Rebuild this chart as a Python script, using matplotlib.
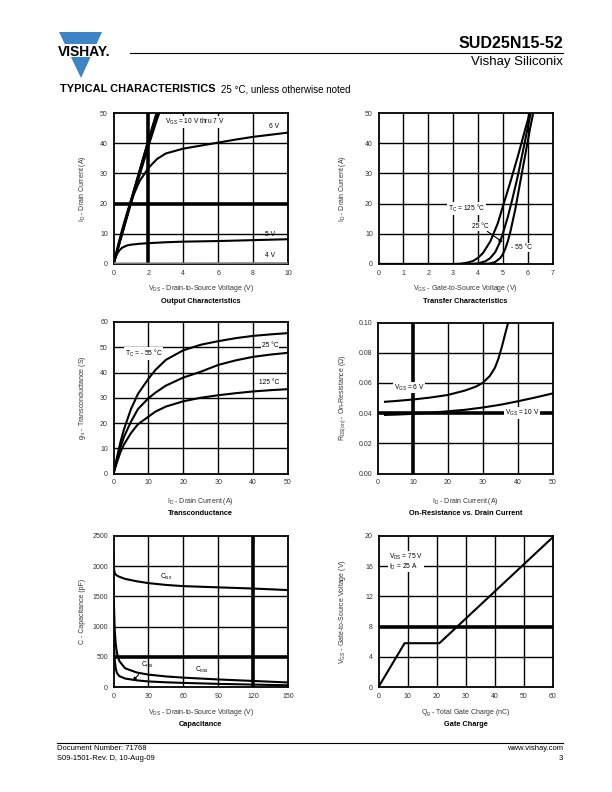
import matplotlib
matplotlib.use("Agg")
import matplotlib.pyplot as plt
from matplotlib.patches import Polygon, Rectangle

plt.rcParams['font.family'] = ['Liberation Sans', 'DejaVu Sans']
plt.rcParams['mathtext.default'] = 'regular'

# ---- data ----
# Output characteristics (VDS, ID)
out_vds_hi = [0, 0.5, 1.0, 1.5, 2.0, 2.5, 2.75]
out_id_10v = [0, 10.5, 21, 31, 41, 50.5, 55]
out_id_7v = [0, 10, 20, 29.5, 39, 48, 52]
out_vds_6v = [0, 0.25, 0.5, 0.75, 1.0, 1.5, 2.0, 2.5, 3.0, 4.0, 5.0, 6.0, 7.0, 8.0, 9.0, 10.0]
out_id_6v = [0, 6, 11.5, 16.5, 21, 27.5, 31.8, 34.8, 36.6, 38.2, 39.2, 40.2, 41.2, 42.1, 42.8, 43.5]
out_vds_5v = [0, 0.1, 0.2, 0.35, 0.5, 0.75, 1.0, 1.5, 2.0, 3.0, 4.0, 6.0, 8.0, 10.0]
out_id_5v = [0, 1.8, 3.3, 4.6, 5.4, 6.1, 6.4, 6.7, 6.9, 7.2, 7.4, 7.6, 7.9, 8.2]
out_vds_4v = [0, 10]
out_id_4v = [0.15, 0.25]

# Transfer characteristics (VGS, ID)
tr_vgs_125 = [0, 3.0, 3.3, 3.6, 3.8, 4.0, 4.2, 4.5, 4.8, 5.0, 5.3, 5.6, 5.9, 6.1]
tr_id_125 = [0, 0, 0.1, 0.5, 1.0, 2.0, 3.6, 7.5, 13.5, 19, 27, 35.5, 44.5, 50.5]
tr_vgs_25 = [0, 3.6, 4.0, 4.3, 4.5, 4.7, 4.9, 5.0, 5.2, 5.4, 5.6, 5.8, 6.0, 6.15]
tr_id_25 = [0, 0, 0.2, 0.9, 2.0, 4.0, 7.5, 10, 15.5, 22, 29, 37, 45, 51]
tr_vgs_m55 = [0, 4.2, 4.5, 4.7, 4.9, 5.0, 5.1, 5.2, 5.3, 5.5, 5.7, 5.9, 6.1, 6.25]
tr_id_m55 = [0, 0, 0.2, 0.7, 2.0, 3.2, 5.0, 7.5, 10.5, 18, 27, 36, 45, 51]

# Transconductance (ID, gfs)
gfs_id = [0, 1, 2, 3, 5, 7, 10, 12, 15, 20, 25, 30, 35, 40, 45, 50]
gfs_m55 = [0, 6.5, 12.5, 17.5, 25.5, 31.5, 37.5, 41, 45, 48.8, 51, 52.4, 53.6, 54.5, 55.1, 55.6]
gfs_25 = [0, 5.5, 10.5, 14.5, 20.5, 25.5, 29.8, 32, 34.8, 38, 40.3, 43, 44.8, 46.2, 47.1, 47.8]
gfs_125 = [0, 4.5, 8.5, 11.5, 16, 19.5, 22.5, 24.5, 26.5, 28.6, 30, 31, 31.8, 32.5, 33, 33.4]

# On-resistance vs drain current (ID, RDS(on))
ron_id_6v = [2, 5, 10, 15, 20, 25, 28, 30, 32, 33.5, 34.5, 35.5, 36.5, 37.3]
ron_6v = [0.0475, 0.0480, 0.0490, 0.0503, 0.0520, 0.0550, 0.0575, 0.0600, 0.0645, 0.0700, 0.0760, 0.0840, 0.0930, 0.1000]
ron_id_10v = [2, 5, 10, 15, 20, 25, 30, 35, 40, 45, 50]
ron_10v = [0.0388, 0.0390, 0.0395, 0.0402, 0.0412, 0.0422, 0.0437, 0.0455, 0.0478, 0.0503, 0.0530]

# Capacitance (VDS, C)
cap_vds = [0, 0.5, 1, 2, 3, 5, 10, 20, 30, 45, 60, 90, 120, 150]
cap_iss = [2200, 1950, 1890, 1860, 1845, 1825, 1790, 1750, 1720, 1690, 1670, 1650, 1630, 1605]
cap_oss = [1650, 1300, 950, 700, 560, 430, 310, 240, 205, 175, 155, 125, 100, 75]
cap_rss = [1250, 700, 450, 300, 230, 180, 140, 110, 92, 78, 68, 52, 40, 28]

# Gate charge (Qg, VGS)
qg = [0, 9, 21, 60]
vgs_qg = [0, 5.8, 5.8, 19.8]

W, H = 612, 792
fig = plt.figure(figsize=(W / 100, H / 100), dpi=100)


def fx(x):
    return x / W


def fy(y):
    return 1 - y / H


def make_axes(x0, y0, x1, y1):
    return fig.add_axes([fx(x0), fy(y1), fx(x1) - fx(x0), fy(y0) - fy(y1)])


def style(ax, xlim, ylim, xticks, yticks, yfmt, xlab, ylab, title,
          ylab_x, xlab_y, title_y, thick_x=(), thick_y=()):
    ax.set_xlim(*xlim)
    ax.set_ylim(*ylim)
    ax.set_xticks(xticks)
    ax.set_yticks(yticks)
    ax.set_yticklabels([yfmt.format(v) for v in yticks])
    ax.tick_params(length=0, labelsize=5, pad=4, colors='#333333')
    for s in ax.spines.values():
        s.set_linewidth(1.3)
    for v in xticks[1:-1]:
        ax.axvline(v, color='black', lw=2.6 if v in thick_x else 1.0, zorder=1)
    for v in yticks[1:-1]:
        ax.axhline(v, color='black', lw=2.6 if v in thick_y else 1.0, zorder=1)
    ax.set_xlabel(xlab, fontsize=5, color='#333333', va='center')
    ax.set_ylabel(ylab, fontsize=5, color='#333333', va='center')
    ax.yaxis.set_label_coords(ylab_x, 0.5)
    ax.xaxis.set_label_coords(0.5, xlab_y)
    ax.text(0.5, title_y, title, transform=ax.transAxes, ha='center', va='center',
            fontsize=5.3, fontweight='bold')


LW = 1.5
WB = dict(facecolor='white', edgecolor='none', pad=0.6)

# ---- Output characteristics ----
ax = make_axes(113.5, 113, 288, 264)
style(ax, (0, 10), (0, 50), [0, 2, 4, 6, 8, 10], [0, 10, 20, 30, 40, 50], '{:g}',
      '$V_{DS}$ - Drain-to-Source Voltage (V)', '$I_D$ - Drain Current (A)',
      'Output Characteristics', -0.175, -0.16, -0.25, thick_x=(2,), thick_y=(20,))
ax.plot(out_vds_hi, out_id_10v, color='black', lw=LW, zorder=3)
ax.plot(out_vds_hi, [a * 0.97 + b * 0.03 for a, b in zip(out_id_10v, out_id_7v)], color='black', lw=LW, zorder=3)
ax.plot(out_vds_hi, [a * 0.5 + b * 0.5 for a, b in zip(out_id_10v, out_id_7v)], color='black', lw=LW, zorder=3)
ax.plot(out_vds_hi, out_id_7v, color='black', lw=LW, zorder=3)
ax.plot(out_vds_6v, out_id_6v, color='black', lw=LW, zorder=3)
ax.plot(out_vds_5v, out_id_5v, color='black', lw=LW, zorder=3)
ax.plot(out_vds_4v, out_id_4v, color='#777777', lw=LW, zorder=3)
ax.text(2.95, 46.5, '$V_{GS}$ = 10 V thru 7 V', fontsize=4.8, bbox=WB, zorder=4)
ax.text(8.9, 45, '6 V', fontsize=4.8)
ax.text(8.7, 9.3, '5 V', fontsize=4.8)
ax.text(8.7, 2.2, '4 V', fontsize=4.8)

# ---- Transfer characteristics ----
ax = make_axes(378.5, 113, 552.5, 264)
style(ax, (0, 7), (0, 50), [0, 1, 2, 3, 4, 5, 6, 7], [0, 10, 20, 30, 40, 50], '{:g}',
      '$V_{GS}$ - Gate-to-Source Voltage (V)', '$I_D$ - Drain Current (A)',
      'Transfer Characteristics', -0.205, -0.16, -0.25)
ax.plot(tr_vgs_125, tr_id_125, color='black', lw=LW, zorder=3)
ax.plot(tr_vgs_25, tr_id_25, color='black', lw=LW, zorder=3)
ax.plot(tr_vgs_m55, tr_id_m55, color='black', lw=LW, zorder=3)
ax.text(2.8, 17.5, '$T_C$ = 125 °C', fontsize=4.8, bbox=WB, zorder=4)
ax.annotate('25 °C', xy=(5.0, 7.2), xytext=(3.75, 12.5), fontsize=4.8, va='center', zorder=4,
            bbox=WB, arrowprops=dict(arrowstyle='-|>', color='black', lw=0.8, mutation_scale=5,
                                     shrinkA=1, shrinkB=0))
ax.text(5.35, 5.5, '- 55 °C', fontsize=4.8, va='center', bbox=WB, zorder=4)

# ---- Transconductance ----
ax = make_axes(113.5, 322, 288, 473.5)
style(ax, (0, 50), (0, 60), [0, 10, 20, 30, 40, 50], [0, 10, 20, 30, 40, 50, 60], '{:g}',
      '$I_D$ - Drain Current (A)', '$g_{fs}$ - Transconductance (S)',
      'Transconductance', -0.175, -0.188, -0.267)
ax.plot(gfs_id, gfs_m55, color='black', lw=LW, zorder=3)
ax.plot(gfs_id, gfs_25, color='black', lw=LW, zorder=3)
ax.plot(gfs_id, gfs_125, color='black', lw=LW, zorder=3)
ax.text(3.3, 47.5, '$T_C$ = - 55 °C', fontsize=4.8, va='center', bbox=WB, zorder=4)
ax.text(42.5, 50.5, '25 °C', fontsize=4.8, va='center', bbox=WB, zorder=4)
ax.text(41.8, 36.2, '125 °C', fontsize=4.8, va='center', bbox=WB, zorder=4)

# ---- On-resistance ----
ax = make_axes(378, 322.5, 552.5, 473.5)
style(ax, (0, 50), (0, 0.10), [0, 10, 20, 30, 40, 50], [0, 0.02, 0.04, 0.06, 0.08, 0.10], '{:.2f}',
      '$I_D$ - Drain Current (A)', '$R_{DS(on)}$ - On-Resistance (Ω)',
      'On-Resistance vs. Drain Current', -0.205, -0.188, -0.267, thick_x=(10,), thick_y=(0.04,))
ax.plot(ron_id_6v, ron_6v, color='black', lw=LW, zorder=3)
ax.plot(ron_id_10v, ron_10v, color='black', lw=LW, zorder=3)
ax.text(4.5, 0.057, '$V_{GS}$ = 6 V', fontsize=4.8, va='center', bbox=WB, zorder=4)
ax.text(36.3, 0.0402, '$V_{GS}$ = 10 V', fontsize=4.8, va='center', bbox=WB, zorder=4)

# ---- Capacitance ----
ax = make_axes(113.5, 536, 288, 687)
style(ax, (0, 150), (0, 2500), [0, 30, 60, 90, 120, 150], [0, 500, 1000, 1500, 2000, 2500], '{:g}',
      '$V_{DS}$ - Drain-to-Source Voltage (V)', 'C - Capacitance (pF)',
      'Capacitance', -0.175, -0.172, -0.25, thick_x=(120,), thick_y=(500,))
ax.plot(cap_vds, cap_iss, color='black', lw=LW, zorder=3)
ax.plot(cap_vds, cap_oss, color='black', lw=LW, zorder=3)
ax.plot(cap_vds, cap_rss, color='black', lw=LW, zorder=3)
ax.text(40, 1830, '$C_{iss}$', fontsize=4.8, va='center')
ax.text(70, 285, '$C_{oss}$', fontsize=4.8, va='center')
ax.annotate('$C_{rss}$', xy=(16.5, 100), xytext=(24, 370), fontsize=4.8, va='center',
            arrowprops=dict(arrowstyle='-|>', color='black', lw=0.8, mutation_scale=5,
                            shrinkA=2, shrinkB=0))

# ---- Gate charge ----
ax = make_axes(378.5, 536, 552.5, 687)
style(ax, (0, 60), (0, 20), [0, 10, 20, 30, 40, 50, 60], [0, 4, 8, 12, 16, 20], '{:g}',
      '$Q_g$ - Total Gate Charge (nC)', '$V_{GS}$ - Gate-to-Source Voltage (V)',
      'Gate Charge', -0.205, -0.172, -0.25, thick_y=(8,))
ax.plot(qg, vgs_qg, color='black', lw=LW, zorder=3)
ax.text(3.5, 16.6, '$V_{DS}$ = 75 V\n$I_D$ = 25 A', fontsize=4.8, va='center',
        linespacing=0.9, bbox=WB, zorder=4)

# ---- page header ----
blue = '#3D84C6'
fig.patches.append(Polygon([(fx(59), fy(32)), (fx(102), fy(32)), (fx(81), fy(78))],
                           closed=True, facecolor=blue, edgecolor='none', transform=fig.transFigure))
fig.patches.append(Rectangle((fx(55), fy(57)), fx(65) - fx(0), fy(0) - fy(13),
                             facecolor='white', edgecolor='none', transform=fig.transFigure))
fig.text(fx(57.5), fy(51.5), 'VISHAY.', fontsize=10, fontweight='bold', ha='left', va='center')
fig.add_artist(plt.Line2D([fx(130), fx(563)], [fy(52.5), fy(52.5)], color='black', lw=0.8))
fig.text(fx(563), fy(44), 'SUD25N15-52', fontsize=11.5, fontweight='bold', ha='right', va='center')
fig.text(fx(563), fy(62), 'Vishay Siliconix', fontsize=9.5, ha='right', va='center')
fig.text(fx(60), fy(89), 'TYPICAL CHARACTERISTICS', fontsize=7.9, fontweight='heavy', ha='left', va='center')
fig.text(fx(221), fy(89), '25 °C, unless otherwise noted', fontsize=7, ha='left', va='center')

# ---- page footer ----
fig.add_artist(plt.Line2D([fx(57), fx(563)], [fy(743), fy(743)], color='black', lw=0.8))
fig.text(fx(57), fy(749), 'Document Number: 71768', fontsize=5.5, ha='left', va='center')
fig.text(fx(57), fy(759), 'S09-1501-Rev. D, 10-Aug-09', fontsize=5.5, ha='left', va='center')
fig.text(fx(563), fy(749), 'www.vishay.com', fontsize=5.5, ha='right', va='center')
fig.text(fx(563), fy(759), '3', fontsize=5.5, ha='right', va='center')

fig.savefig('out.png', dpi=100)
